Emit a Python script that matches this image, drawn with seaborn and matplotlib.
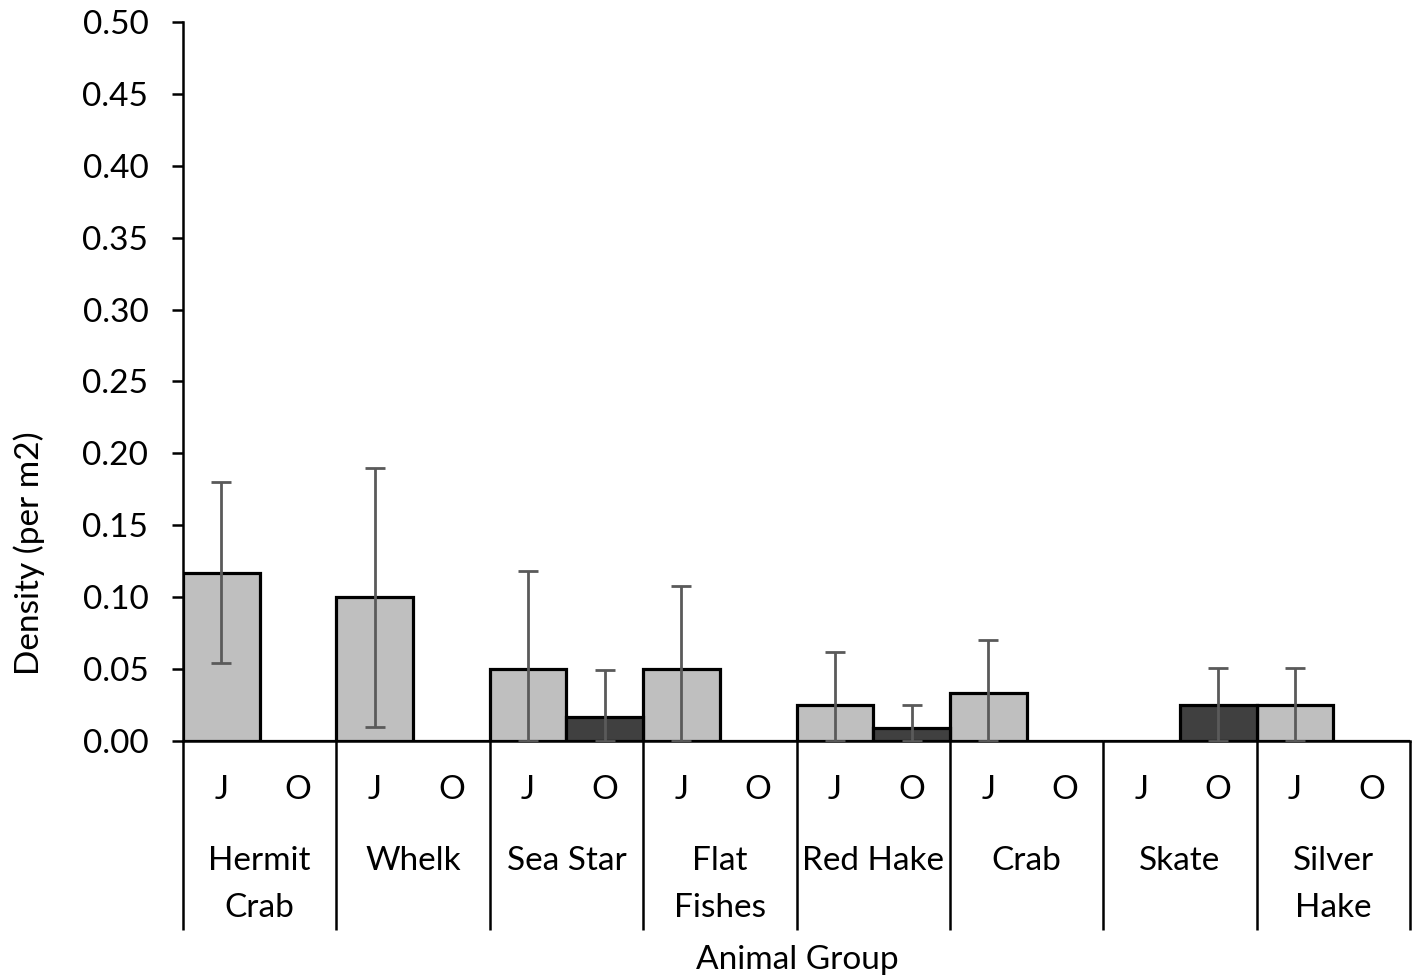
import numpy as np
import pandas as pd
import matplotlib
matplotlib.use("Agg")
import matplotlib.pyplot as plt
import matplotlib.transforms as mtransforms
import seaborn as sns

# ---- data ----
groups = ["Hermit\nCrab", "Whelk", "Sea Star", "Flat\nFishes", "Red Hake", "Crab", "Skate", "Silver\nHake"]
seasons = ["J", "O"]
j_vals = [0.117, 0.100, 0.050, 0.050, 0.025, 0.0334, 0.0, 0.025]
o_vals = [0.0, 0.0, 0.0167, 0.0, 0.009, 0.0, 0.025, 0.0]
j_err = [0.063, 0.090, 0.068, 0.058, 0.037, 0.037, 0.0, 0.026]
o_err = [0.0, 0.0, 0.033, 0.0, 0.016, 0.0, 0.026, 0.0]
yticks = [0.00, 0.05, 0.10, 0.15, 0.20, 0.25, 0.30, 0.35, 0.40, 0.45, 0.50]

df = pd.DataFrame({
    "group": groups * 2,
    "season": ["J"] * len(groups) + ["O"] * len(groups),
    "value": j_vals + o_vals,
})

sns.set_theme(style="white")
plt.rcParams["font.family"] = ["Lato", "DejaVu Sans"]
FS = 24

fig = plt.figure(figsize=(14.19, 9.80), dpi=100)
ax = fig.add_axes([183 / 1419, 1 - 741 / 980, (1410 - 183) / 1419, (741 - 22) / 980])

sns.barplot(data=df, x="group", y="value", hue="season", hue_order=seasons,
            palette={"J": "#bfbfbf", "O": "#404040"}, width=1.0, gap=0,
            errorbar=None, edgecolor="black", linewidth=2.3, ax=ax, legend=False)

# error bars (lower clipped at zero)
for cont, vals, errs in zip(ax.containers, [j_vals, o_vals], [j_err, o_err]):
    xs = [p.get_x() + p.get_width() / 2 for p in cont.patches]
    for x, v, e in zip(xs, vals, errs):
        if e <= 0:
            continue
        lo = min(e, v)
        ax.errorbar([x], [v], yerr=[[lo], [e]], fmt="none", ecolor="#5a5a5a",
                    elinewidth=2.0, capsize=7, capthick=2.0, zorder=5)

ax.set_xlim(-0.5, len(groups) - 0.5)
ax.set_ylim(0, 0.5)
ax.set_yticks(yticks)
ax.set_yticklabels([f"{t:.2f}" for t in yticks], fontsize=FS)
ax.set_xticks([])
ax.set_xlabel("")
ax.set_ylabel("")
for s in ["top", "right"]:
    ax.spines[s].set_visible(False)
for s in ["left", "bottom"]:
    ax.spines[s].set_color("black")
    ax.spines[s].set_linewidth(1.8)
ax.tick_params(axis="y", direction="out", length=8, width=1.8, color="black",
               left=True, pad=17, labelcolor="black")

# hierarchical category axis
trans = mtransforms.blended_transform_factory(ax.transData, fig.transFigure)
y_top = 1 - 741 / 980
y_bot = 1 - 930 / 980
for b in np.arange(-0.5, len(groups), 1.0):
    ax.plot([b, b], [y_top, y_bot], transform=trans, color="black", lw=1.8,
            clip_on=False, solid_capstyle="butt")

for cont, s in zip(ax.containers, seasons):
    for p in cont.patches:
        ax.text(p.get_x() + p.get_width() / 2, 1 - 790 / 980, s, transform=trans,
                ha="center", va="center", fontsize=FS, color="black")

line_y = [1 - 861 / 980, 1 - 908 / 980]
for i, g in enumerate(groups):
    for k, line in enumerate(g.split("\n")):
        ax.text(i, line_y[k], line, transform=trans, ha="center", va="center",
                fontsize=FS, color="black")

fig.text(797 / 1419, 1 - 960 / 980, "Animal Group", ha="center", va="center",
         fontsize=FS, color="black")
fig.text(29 / 1419, 1 - 553 / 980, "Density (per m2)", rotation=90, ha="center",
         va="center", fontsize=FS, color="black")

fig.savefig("out.png", dpi=100, facecolor="white")
